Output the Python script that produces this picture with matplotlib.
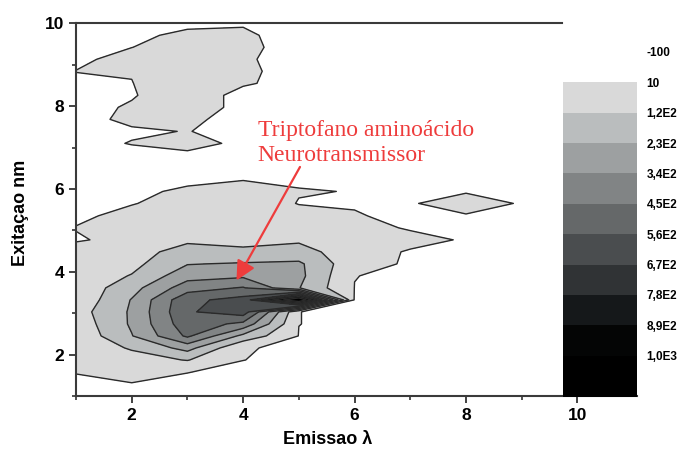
import numpy as np
import matplotlib.pyplot as plt

# grid of the contour map
emission = [1, 2, 3, 4, 5, 6, 7, 8, 9, 10]
excitation = [1.00, 1.29, 1.58, 1.87, 2.16, 2.45, 2.74, 3.03, 3.32, 3.61,
              3.90, 4.19, 4.48, 4.77, 5.06, 5.35, 5.65, 5.94, 6.23, 6.52,
              6.81, 7.10, 7.39, 7.68, 7.97, 8.26, 8.55, 8.84, 9.13, 9.42,
              9.71, 10.00]

# intensity, one row per excitation value
intensity = [
    [0, 0, 0, 0, 0, 0, 0, 0, 0, 0],
    [0, 5, 0, 0, 0, 0, 0, 0, 0, 0],
    [12, 55, 11, 0, 0, 0, 0, 0, 0, 0],
    [30, 80, 125, 10.5, 0, 0, 0, 0, 0, 0],
    [53, 130, 270, 14, 0, 0, 0, 0, 0, 0],
    [34, 225, 470, 200, 8, 0, 0, 0, 0, 0],
    [50, 245, 520, 420, 10.5, 0, 0, 0, 0, 0],
    [71, 245, 548, 620, 10.5, 0, 0, 0, 0, 0],
    [36, 236, 533, 600, 1150, 0, 0, 0, 0, 0],
    [40, 190, 399, 459, 235, 9, 0, 0, 0, 0],
    [50, 126, 299, 320, 260, 11, 0, 0, 0, 0],
    [50, 88.6, 225, 240, 250, 41.7, 0, 0, 0, 0],
    [34, 75, 165, 140, 160, 60, 0, 0, 0, 0],
    [5, 25, 100, 90, 105, 60, 43.5, 0, 0, 0],
    [12, 50, 70, 70, 60, 47.6, 0, 0, 0, 0],
    [0, 25, 50, 60, 40, 13, 0, 0, 0, 0],
    [0, 7.6, 29.4, 60, 6.8, 6.6, 0, 66.7, 0, 0],
    [0, 0, 17.9, 30, 13.9, 8.1, 0, 0, 0, 0],
    [0, 0, 0, 8, 0, 0, 0, 0, 0, 0],
    [0, 0, 0, 0, 0, 0, 0, 0, 0, 0],
    [0, 0, 0, 0, 0, 0, 0, 0, 0, 0],
    [0, 11.4, 26, 0, 0, 0, 0, 0, 0, 0],
    [0, 6, 10.9, 0, 0, 0, 0, 0, 0, 0],
    [0, 16.4, 15.6, 0, 0, 0, 0, 0, 0, 0],
    [0, 13.2, 28.6, 0, 0, 0, 0, 0, 0, 0],
    [0, 7.7, 28.6, 0, 0, 0, 0, 0, 0, 0],
    [0, 9, 40, 13.3, 0, 0, 0, 0, 0, 0],
    [11, 12, 40, 15.2, 0, 0, 0, 0, 0, 0],
    [0, 27, 35, 13.3, 0, 0, 0, 0, 0, 0],
    [0, 9.5, 30, 16, 0, 0, 0, 0, 0, 0],
    [0, 0, 20, 14, 0, 0, 0, 0, 0, 0],
    [0, 0, 0, 8, 0, 0, 0, 0, 0, 0],
]

levels = [-100, 10, 120, 230, 340, 450, 560, 670, 780, 890, 1000, 1150]
level_labels = ['-100', '10', '1,2E2', '2,3E2', '3,4E2', '4,5E2', '5,6E2',
                '6,7E2', '7,8E2', '8,9E2', '1,0E3']
band_colors = ['#ffffff', '#d9d9d9', '#babdbe', '#9da0a1', '#818485', '#656869',
               '#4a4d4f', '#303335', '#15181a', '#040505', '#000000']

red = '#ee3c3c'

plt.rcParams['font.family'] = ['Liberation Sans', 'DejaVu Sans']
plt.rcParams['font.weight'] = 'bold'

fig = plt.figure(figsize=(6.8, 4.59), dpi=100)
ax = fig.add_axes([0.1118, 0.1373, 0.825, 0.812])

cf = ax.contourf(emission, excitation, intensity, levels=levels, colors=band_colors)
ax.contour(emission, excitation, intensity, levels=levels[1:-1],
           colors='#2a2a2a', linewidths=1.0)

ax.set_xlim(1, 11.07)
ax.set_ylim(1, 10)
ax.set_xticks([2, 4, 6, 8, 10])
ax.set_xticks([1, 3, 5, 7, 9], minor=True)
ax.set_yticks([2, 4, 6, 8, 10])
ax.set_yticks([1, 3, 5, 7, 9], minor=True)
ax.tick_params(which='major', length=5, width=1.3, labelsize=12.5, color='#333333')
ax.tick_params(which='minor', length=3, width=1.2, color='#333333')
for lab in ax.get_xticklabels() + ax.get_yticklabels():
    lab.set_fontweight('bold')

ax.spines['right'].set_visible(False)
ax.spines['top'].set_bounds(1, 9.73)
for side in ['left', 'bottom', 'top']:
    ax.spines[side].set_linewidth(1.5)
    ax.spines[side].set_color('#3a3a3a')

fig.text(328 / 680, 1 - 440 / 459, 'Emissao λ', ha='center', va='center',
         fontsize=13, fontweight='bold')
fig.text(21 / 680, 1 - 213 / 459, 'Exitaçao nm', ha='center', va='center',
         rotation=90, fontsize=13, fontweight='bold')

# annotation
ax.text(4.26, 7.12, 'Triptofano aminoácido\nNeurotransmissor', color=red,
        family='Liberation Serif', fontweight='normal', fontsize=17,
        ha='left', va='center', linespacing=1.25)
ax.annotate('', xy=(3.88, 3.79), xytext=(5.02, 6.53),
            arrowprops=dict(arrowstyle='-|>,head_length=0.9,head_width=0.45',
                            color=red, lw=1.6, mutation_scale=13,
                            shrinkA=0, shrinkB=0))

# colour scale, drawn over the right end of the plot
cax = fig.add_axes([563 / 680, (459 - 397) / 459, 74 / 680, 345 / 459])
cb = fig.colorbar(cf, cax=cax, spacing='proportional', ticks=levels[:-1])
cb.set_ticklabels(level_labels)
cax.invert_yaxis()
cb.outline.set_visible(False)
cax.tick_params(length=0, pad=7, labelsize=8.5)
for lab in cax.get_yticklabels():
    lab.set_fontweight('bold')

fig.savefig('out.png', dpi=100)
